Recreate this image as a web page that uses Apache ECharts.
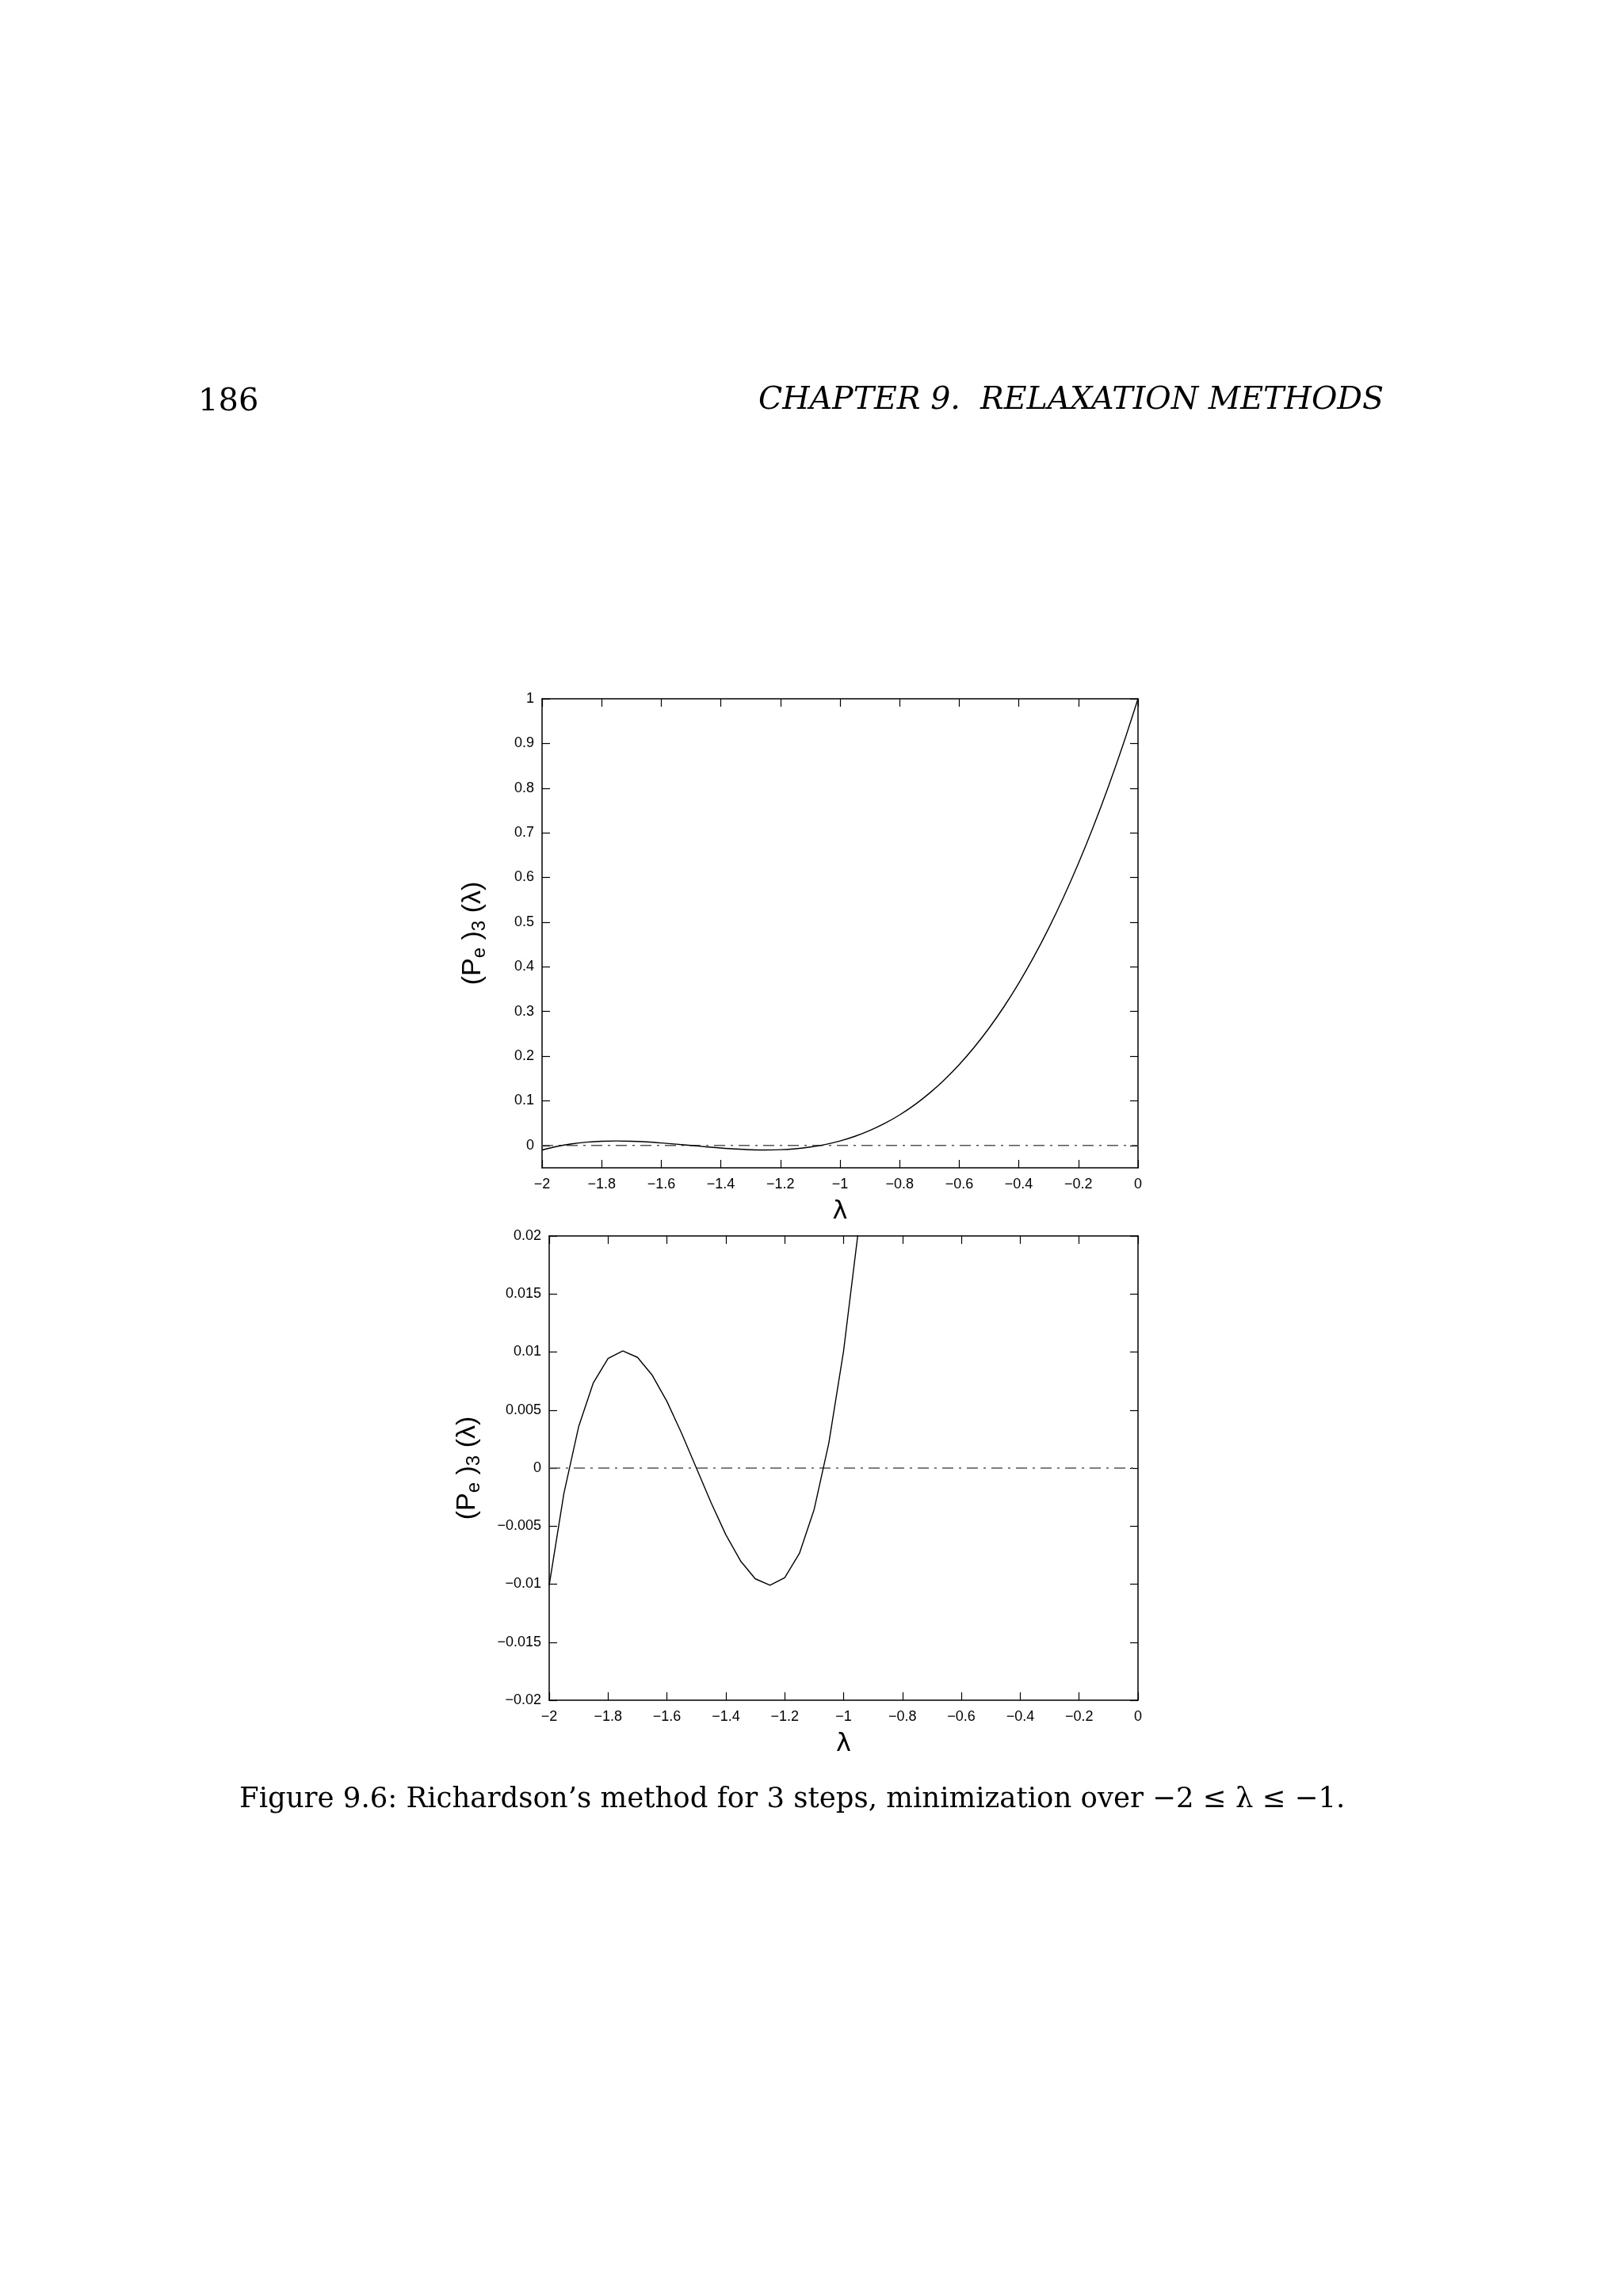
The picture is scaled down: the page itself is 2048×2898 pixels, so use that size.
<!DOCTYPE html>
<html><head><meta charset="utf-8">
<script src="https://cdn.jsdelivr.net/npm/echarts@6/dist/echarts.min.js"></script>
<style>
html,body{margin:0;padding:0;background:#fff;}
#c{width:2048px;height:2898px;}
</style></head><body><div id="c"></div>
<script>
const lambdas = [-2,-1.95,-1.9,-1.85,-1.8,-1.75,-1.7,-1.65,-1.6,-1.55,-1.5,-1.45,-1.4,-1.35,-1.3,-1.25,-1.2,-1.15,-1.1,-1.05,-1,-0.95,-0.9,-0.85,-0.8,-0.75,-0.7,-0.65,-0.6,-0.55,-0.5,-0.45,-0.4,-0.35,-0.3,-0.25,-0.2,-0.15,-0.1,-0.05,0];
const pValues = [-0.0101,-0.00218,0.00356,0.00735,0.00945,0.0101,0.00954,0.0080,0.00574,0.00299,0,-0.00299,-0.00574,-0.0080,-0.00954,-0.0101,-0.00945,-0.00735,-0.00356,0.00218,0.0101,0.02044,0.03345,0.04937,0.06844,0.0909,0.1170,0.1470,0.1811,0.2196,0.2626,0.3105,0.3636,0.4219,0.4858,0.5556,0.6314,0.7135,0.8021,0.8975,1];
const zeroLine = [[-2,0],[0,0]];
const topYTicks = [0,0.1,0.2,0.3,0.4,0.5,0.6,0.7,0.8,0.9,1];

const curve = lambdas.map((l,i)=>[l,pValues[i]]);
const chart = echarts.init(document.getElementById('c'));
const tickFont = {fontFamily:'Liberation Sans, Arial', fontSize:18, color:'#000'};
function fmt(v){ if (Math.abs(v)<1e-9) return '0'; return String(v).replace('-','\u2212'); }
function grid(top,left,h){ return {left:left, top:top, width:1436-left, height:h, show:false}; }
const grids=[grid(882,684,592), grid(1560,693,586)];
const xAxes=[], yAxes=[];
const yCfg=[{min:-0.05,max:1,interval:0.05,custom:topYTicks,labs:v=>fmt(Math.round(v*10)/10)},
            {min:-0.02,max:0.02,interval:0.005,custom:null,labs:v=>fmt(Math.round(v*1000)/1000)}];
[0,1].forEach(g=>{
  const common={type:'value',min:-2,max:0,interval:0.2,gridIndex:g,
    axisLine:{show:true,onZero:false,lineStyle:{color:'#000',width:1.5}},
    axisTick:{show:true,inside:true,length:10,lineStyle:{color:'#000',width:1.2}},
    splitLine:{show:false}};
  xAxes.push(Object.assign({},common,{position:'bottom',
    axisLabel:Object.assign({margin:12,formatter:v=>fmt(Math.round(v*10)/10)},tickFont),
    name:'\u03bb',nameLocation:'middle',nameGap:40,
    nameTextStyle:{fontFamily:'DejaVu Sans',fontSize:32,color:'#000'}}));
  xAxes.push(Object.assign({},common,{position:'top',axisLabel:{show:false}}));
  const yc=yCfg[g];
  const tick={show:true,inside:true,length:10,lineStyle:{color:'#000',width:1.2}};
  if(yc.custom) tick.customValues=yc.custom;
  const ycommon={type:'value',min:yc.min,max:yc.max,interval:yc.interval,gridIndex:g,
    axisLine:{show:true,onZero:false,lineStyle:{color:'#000',width:1.5}},
    axisTick:tick,
    splitLine:{show:false}};
  const lab=Object.assign({margin:10,formatter:yc.labs},tickFont);
  if(yc.custom) lab.customValues=yc.custom;
  yAxes.push(Object.assign({},ycommon,{position:'left',
    axisLabel:lab,
    name:'{a|(P}{s|e}{a| )}{s3|3}{a| (\u03bb)}',nameLocation:'middle',nameRotate:90,nameGap:g===0?70:86,
    nameTextStyle:{rich:{a:{fontFamily:'Liberation Sans',fontSize:34,color:'#000'},
      s:{fontFamily:'Liberation Sans',fontSize:24,color:'#000',padding:[0,0,-16,0]},
      s3:{fontFamily:'Liberation Sans',fontSize:24,color:'#000',padding:[0,0,-16,0]}}}}));
  yAxes.push(Object.assign({},ycommon,{position:'right',axisLabel:{show:false}}));
});
const series=[];
[0,1].forEach(g=>{
  series.push({type:'line',xAxisIndex:2*g,yAxisIndex:2*g,data:zeroLine,symbol:'none',silent:true,
    lineStyle:{color:'#555',width:1.5,type:[14,7,3,7]}});
  series.push({type:'line',xAxisIndex:2*g,yAxisIndex:2*g,data:curve,symbol:'none',clip:true,
    smooth:g===0?0.3:false,lineStyle:{color:'#000',width:1.4}});
});
chart.setOption({animation:false,grid:grids,xAxis:xAxes,yAxis:yAxes,series:series,
  graphic:[
    {type:'text',left:250,top:488,style:{text:'186',font:'40px "DejaVu Serif"',fill:'#000'}},
    {type:'text',right:302,top:486,style:{text:'CHAPTER 9.  RELAXATION METHODS',font:'italic 39.5px "DejaVu Serif"',fill:'#000'}},
    {type:'text',left:302,top:2254,style:{text:'Figure 9.6: Richardson\u2019s method for 3 steps, minimization over \u22122 \u2264 \u03bb \u2264 \u22121.',font:'35.5px "DejaVu Serif"',fill:'#000'}}
  ]});
</script></body></html>
